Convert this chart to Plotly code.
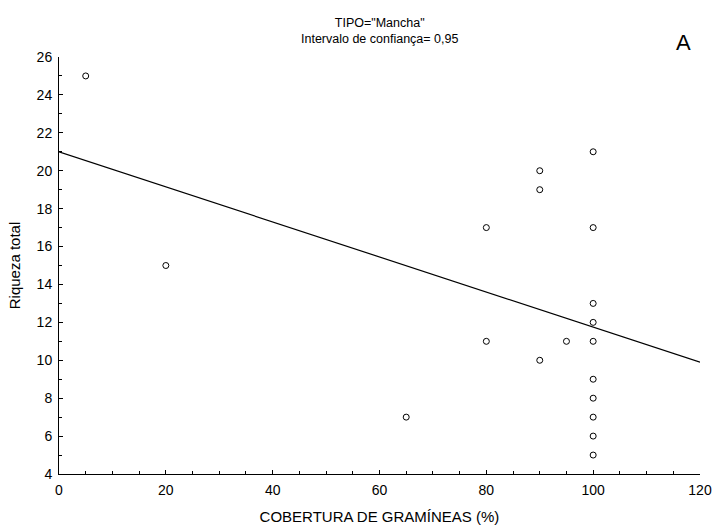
import plotly.graph_objects as go

# Data
cobertura = [5, 20, 65, 80, 80, 90, 90, 90, 95, 100, 100, 100, 100, 100, 100, 100, 100, 100, 100]
riqueza = [25, 15, 7, 17, 11, 20, 19, 10, 11, 21, 17, 13, 12, 11, 9, 8, 7, 6, 5]

# Regression line endpoints (intercept / slope)
fit_x = [0, 120]
intercept = 21.0
slope = -0.0925
fit_y = [intercept + slope * x for x in fit_x]

x_ticks = [0, 20, 40, 60, 80, 100, 120]
y_ticks = [4, 6, 8, 10, 12, 14, 16, 18, 20, 22, 24, 26]

font_family = "Liberation Sans, Arial, sans-serif"

W, H = 715, 531
ML, MR, MT, MB = 59, 15, 57, 57

fig = go.Figure()
fig.add_trace(go.Scatter(
    x=fit_x, y=fit_y, mode="lines",
    line=dict(color="black", width=1.2),
    showlegend=False, hoverinfo="skip"))
fig.add_trace(go.Scatter(
    x=cobertura, y=riqueza, mode="markers",
    marker=dict(symbol="circle-open", size=6, color="black", line=dict(width=1, color="black")),
    showlegend=False))

fig.update_layout(
    width=W, height=H,
    margin=dict(l=ML, r=MR, t=MT, b=MB, autoexpand=False),
    paper_bgcolor="white", plot_bgcolor="white",
    font=dict(family=font_family, color="black", size=14),
    xaxis=dict(
        range=[0, 120], tickvals=x_ticks, ticktext=[str(v) for v in x_ticks],
        automargin=False,
        showline=True, linecolor="black", linewidth=1,
        ticks="inside", ticklen=4, tickcolor="black", tickwidth=1,
        minor=dict(dtick=5, ticks="inside", ticklen=3, tickcolor="black", tickwidth=1),
        showgrid=False, zeroline=False,
        tickfont=dict(size=14), ticklabelstandoff=3,
        title=dict(text="COBERTURA DE GRAMÍNEAS (%)", font=dict(size=15), standoff=14),
    ),
    yaxis=dict(
        range=[4, 26], tickvals=y_ticks, ticktext=[str(v) for v in y_ticks],
        automargin=False,
        showline=True, linecolor="black", linewidth=1,
        ticks="inside", ticklen=4, tickcolor="black", tickwidth=1,
        minor=dict(dtick=1, ticks="inside", ticklen=3, tickcolor="black", tickwidth=1),
        showgrid=False, zeroline=False,
        tickfont=dict(size=14), ticklabelstandoff=3,
        title=dict(text="Riqueza total", font=dict(size=15), standoff=12),
    ),
    annotations=[
        dict(text='TIPO="Mancha"<br>Intervalo de confiança= 0,95',
             x=0.5, xref="paper", y=1.0, yref="paper", yanchor="bottom", yshift=9,
             showarrow=False, font=dict(size=12.5), align="center"),
        dict(text="A", xref="paper", x=(683 - ML) / (W - ML - MR),
             yref="paper", y=1 + (MT - 42) / (H - MT - MB),
             xanchor="center", yanchor="middle",
             showarrow=False, font=dict(size=22)),
    ],
)

fig.write_html("out.html")
